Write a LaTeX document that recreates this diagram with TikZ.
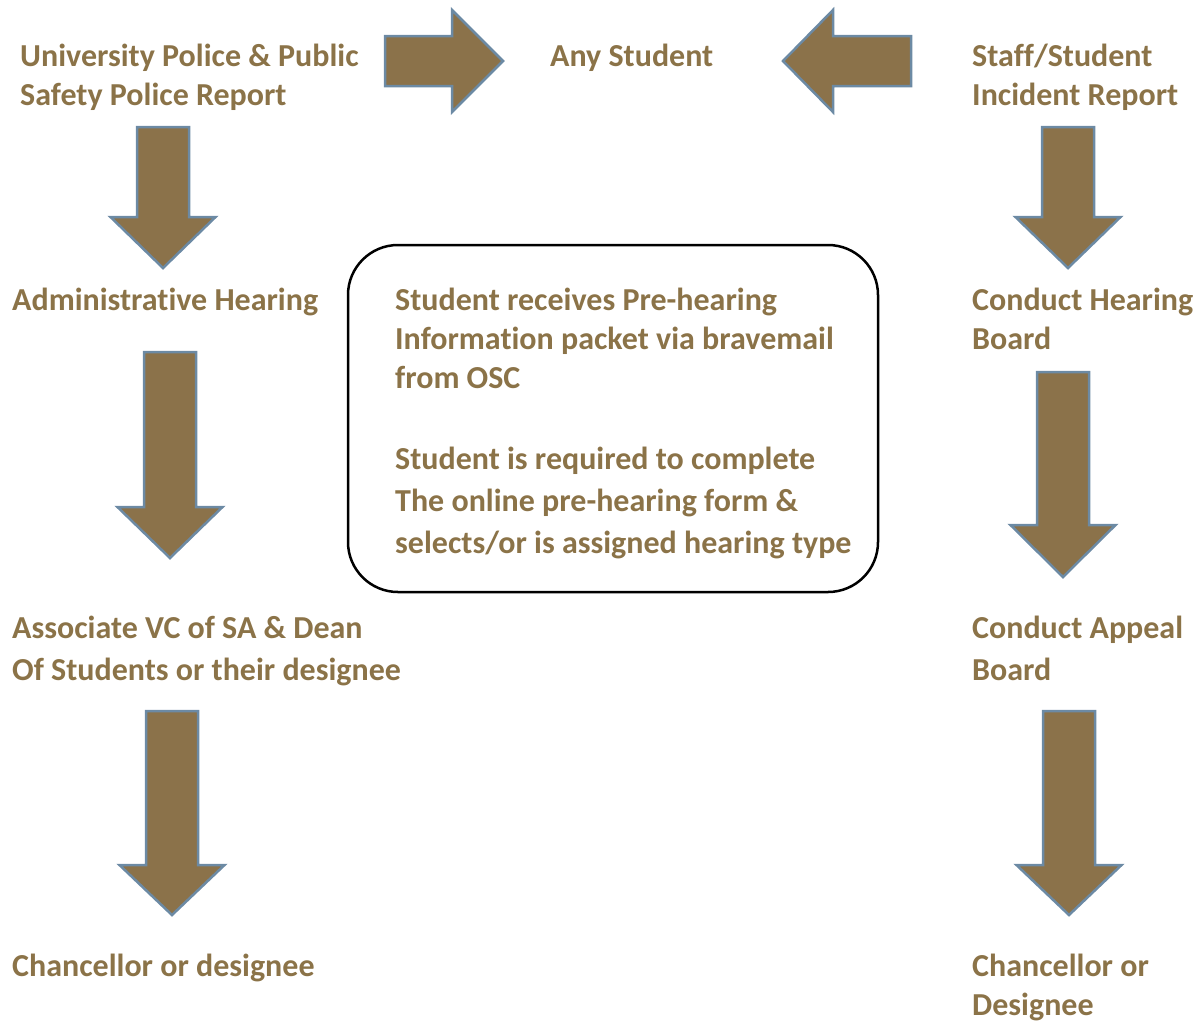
\documentclass[tikz,border=0pt]{standalone}
\usepackage{fontspec}
\setmainfont{Carlito}[Ligatures=NoCommon]
\usetikzlibrary{positioning}
\definecolor{osctext}{RGB}{139,115,72}
\definecolor{oscfill}{RGB}{139,114,74}
\definecolor{oscedge}{RGB}{108,138,164}
\tikzset{blockarrow/.style={draw=oscedge, fill=oscfill, line width=2.5pt, line join=miter}}
% block arrows: centre x, top of shaft, start of head, tip
\newcommand{\flowdown}[4]{\draw[blockarrow] ({#1-26},#2) -- ({#1+26},#2) -- ({#1+26},#3)
  -- ({#1+52.5},#3) -- (#1,#4) -- ({#1-52.5},#3) -- ({#1-26},#3) -- cycle;}
% tail x, start of head x, tip x, centre y
\newcommand{\flowside}[4]{\draw[blockarrow] (#1,{#4-25}) -- (#2,{#4-25}) -- (#2,{#4-51})
  -- (#3,#4) -- (#2,{#4+51}) -- (#2,{#4+25}) -- (#1,{#4+25}) -- cycle;}
\begin{document}
\begin{tikzpicture}[x=1pt, y=-1pt, every node/.style={inner sep=0pt, anchor=base west,
                  align=left, text=osctext, font=\fontsize{32}{39}\selectfont\bfseries}]
              \useasboundingbox (0,0) rectangle (1199,1021);
              % top row (base anchor = last line)
              \node (police) at (20,105) {University Police \& Public\\Safety Police Report};
              \node (student) at (550,66) {Any Student};
              \node (staff) at (972,105) {Staff/Student\\Incident Report};
              \flowside{385}{452}{503}{61}
              \flowside{911}{833}{783}{61}
              % left column
              \node (admin) at (12,310) {Administrative Hearing};
              \node (assoc) at (12,680) {Associate VC of SA \& Dean\\[3pt]Of Students or their designee};
              \node (chanl) at (12,976) {Chancellor or designee};
              \flowdown{163}{127}{217}{268}
              \flowdown{170}{352}{507}{558}
              \flowdown{172}{711}{865}{915}
              % right column
              \node (board) at (972,349) {Conduct Hearing\\Board};
              \node (appeal) at (972,680) {Conduct Appeal\\[3pt]Board};
              \node (chanr) at (972,1015) {Chancellor or\\Designee};
              \flowdown{1068}{127}{217}{268}
              \flowdown{1063}{372}{525}{577}
              \flowdown{1069}{711}{865}{915}
              % middle box
              \node[draw=black, line width=2.5pt, rounded corners=50pt, anchor=center,
                    minimum width=530pt, minimum height=347pt] (infobox) at (613,418.5) {};
              \node (infotext) at (395,553) {Student receives Pre-hearing\\
                Information packet via bravemail\\from OSC\\[42pt]
                Student is required to complete\\[3pt]
                The online pre-hearing form \&\\[3pt]
                selects/or is assigned hearing type};
          \end{tikzpicture}
\end{document}
